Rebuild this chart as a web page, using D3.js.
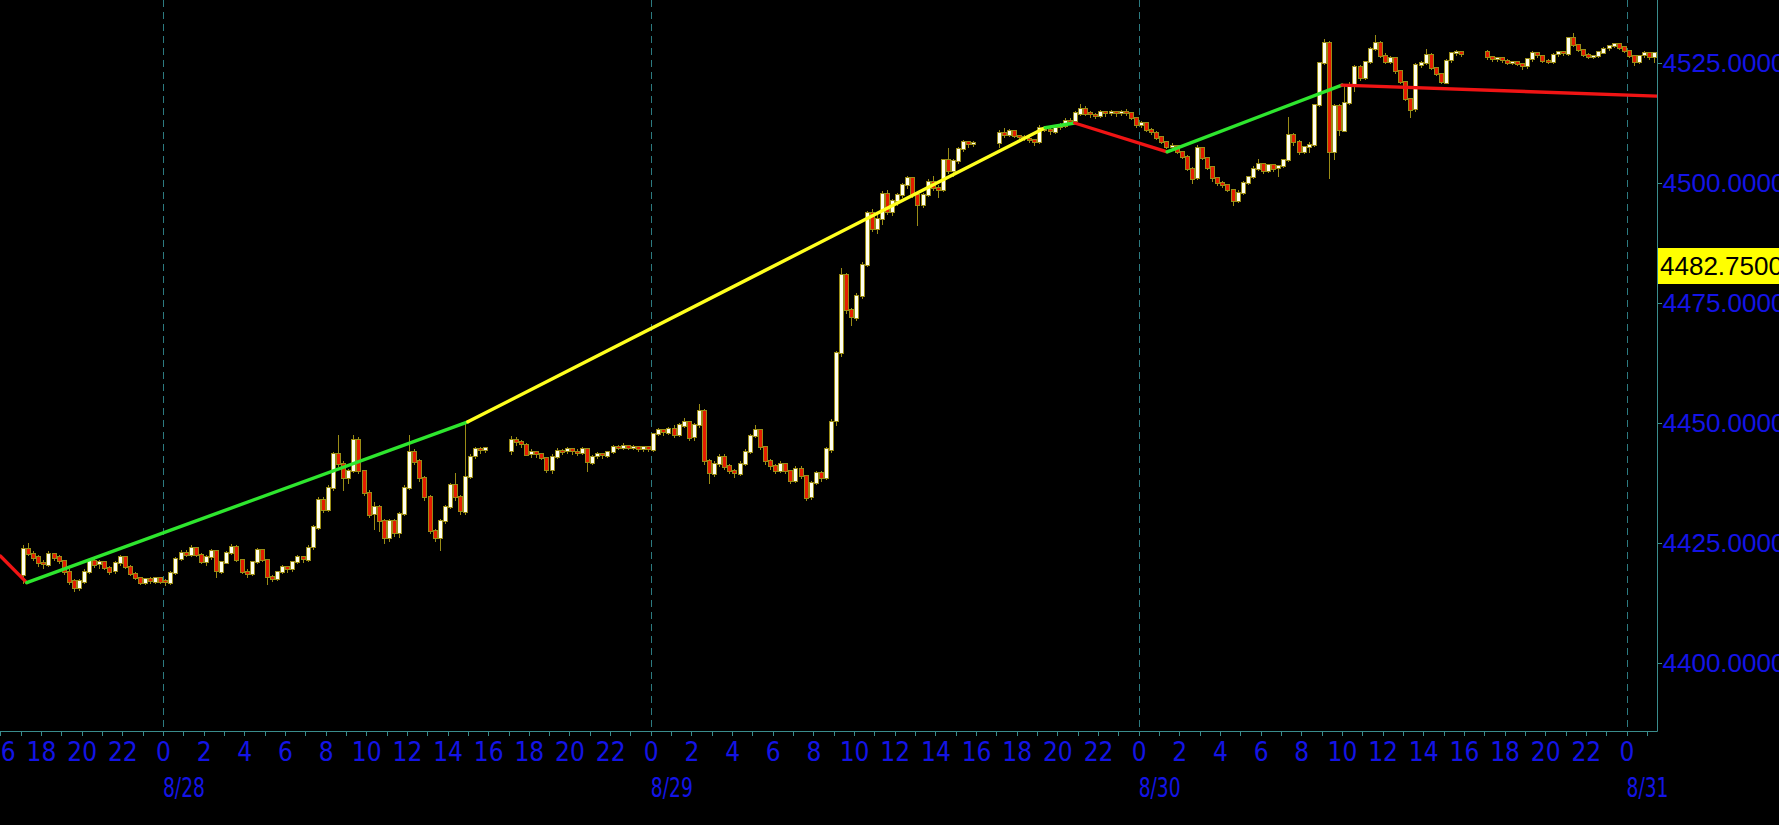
<!DOCTYPE html>
<html><head><meta charset="utf-8">
<script src="https://cdn.jsdelivr.net/npm/d3@7"></script>
<style>
html,body{margin:0;padding:0;background:#000;overflow:hidden}
svg{display:block}
</style></head><body>
<svg id="chart" width="1779" height="825"></svg>
<script>
// ---------------- DATA ----------------
// 15-minute bars, four trading sessions (each starts at 17:00 local exchange time)
const sessionStart = ["2023-08-27T17:00", "2023-08-28T17:00", "2023-08-29T17:00", "2023-08-30T17:00"];
const sessionBars = [92, 92, 92, 34];

const open = [
  // 8/27 17:00 - 8/28 16:00
  4418.25,4423.75,4422.75,4422,4420.75,4420.5,4422.75,4422,4421.25,4419,
  4417,4415.5,4417,4419,4421.25,4420.5,4421,4419.75,4419,4420.75,
  4422,4420,4418.5,4417.75,4416.75,4417.5,4417,4417.75,4417,4416.75,
  4418.75,4421.75,4423,4422.5,4424,4422.5,4421,4422,4423.25,4419,
  4421,4423,4424.25,4421.5,4419,4418.5,4421,4423.5,4421.5,4418,
  4417.5,4419,4420,4419.5,4421,4422,4421.5,4424,4428.25,4434,
  4432,4436.5,4443.5,4441.5,4438.5,4440,4446.5,4440,4435.5,4431,
  4432.5,4429.5,4426,4429.5,4427,4431,4436.5,4444,4442,4438.5,
  4434.5,4427.5,4426,4429.5,4432.5,4437,4434.5,4431.5,4438.75,4443,
  4444.5,4444.25,
  // 8/28 17:00 - 8/29 16:00
  4444.25,4446.5,4446,4445.5,4443.5,4444,4443.5,4442.75,4440.25,4443,
  4444.25,4444,4444.5,4444,4443.75,4444.5,4441.75,4443,4443.5,4443.25,
  4444,4445,4444.75,4445.25,4444.75,4445,4444.5,4445,4444.5,4447.75,
  4448.5,4448,4448.75,4447.5,4449.5,4450.25,4447,4449.5,4452.5,4442,
  4439.5,4441.5,4443,4441,4440,4439.5,4441.5,4444,4447.25,4448.5,
  4445,4442,4441,4440,4441.5,4440,4438,4440.5,4439,4434.5,
  4437.5,4439.5,4438.5,4444.5,4450.25,4464.5,4480.75,4473.5,4472,4476.5,
  4483,4493.75,4490.5,4492.5,4497.75,4494,4496.25,4497.5,4499.5,4501,
  4497.5,4495.5,4497.5,4500.25,4499,4498.5,4504.75,4502.5,4504.5,4507,
  4508.5,4508,
  // 8/29 17:00 - 8/30 16:00
  4508.5,4510.5,4510,4510.75,4509.75,4509.5,4509.25,4509,4508.5,4511.5,
  4511,4510.75,4511.5,4512,4513,4512.75,4514.5,4515.5,4514.5,4514.25,
  4514,4514.75,4514.5,4514.75,4514.5,4514.75,4514.5,4513.5,4512,4512.5,
  4511,4510.5,4509.5,4508.5,4507.5,4507.75,4506.5,4505.5,4503,4501,
  4507.25,4505.25,4503.25,4501,4500,4499.5,4498.5,4496.25,4498,4500,
  4501.25,4503,4504,4502.5,4503.75,4503,4503.5,4504.75,4510,4508.5,
  4506.5,4507.5,4508,4516.25,4525,4529.25,4506.5,4516,4511,4516.75,
  4520.5,4524.25,4522,4525.25,4528,4529.25,4526.5,4525.25,4526,4523.25,
  4521,4517.5,4515.25,4524.5,4525,4526.75,4524,4522.75,4521,4525.5,
  4527,4527.25,
  // 8/30 17:00 - 8/31 01:15
  4527.25,4526.25,4525.75,4526,4525.5,4525,4525.25,4524.75,4524.25,4525.75,
  4527,4526.5,4525.5,4525.25,4526.75,4527.25,4527,4530.25,4528.75,4527.75,
  4526.75,4526.25,4526.5,4527.25,4528,4528.5,4529,4528.25,4527.5,4526.5,
  4525.25,4526.5,4527,4526.25
];
const high = [
  4424.5,4425,4423.25,4422.5,4421.5,4423.25,4423,4422.5,4421.5,4419.5,
  4417.5,4417.5,4419.5,4421.75,4421.75,4421.5,4421.25,4420.25,4421.25,4422.5,
  4422.25,4420.5,4419,4418,4417.75,4418,4418,4418,4417.5,4419.25,
  4422,4423.5,4423.5,4424.5,4424.25,4423,4422.5,4423.75,4423.5,4421.25,
  4423.25,4424.75,4424.5,4421.75,4419.5,4421.25,4424,4423.75,4421.75,4418.25,
  4419.25,4420.5,4420.25,4421.25,4422.5,4422.25,4424.5,4428.75,4434.5,4434.5,
  4437,4444,4447.5,4442,4440.5,4447.5,4447,4440.25,4436,4433.5,
  4433,4430,4430,4430,4431.5,4437,4447.5,4444.5,4442.5,4439,
  4435,4428,4430,4433,4437.5,4439.5,4435,4450.25,4443.5,4445,
  4445,4445,
  4447.25,4447,4446.5,4445.75,4444.5,4444.25,4443.75,4443,4443.5,4444.75,
  4444.5,4445,4444.75,4444.5,4445,4444.75,4443.25,4444,4443.75,4444.25,
  4445.5,4445.5,4445.75,4445.5,4445.5,4445.25,4445.25,4445.25,4448,4449,
  4448.75,4449.25,4449.5,4450,4451,4450.5,4450,4454,4453,4442.5,
  4442,4443.5,4443.5,4441.5,4440.5,4442,4444.5,4447.75,4449.5,4448.75,
  4445.25,4442.5,4441.5,4442,4441.75,4440.25,4441,4441,4439.25,4438,
  4440,4440,4445,4450.75,4465,4482.25,4481.25,4474,4477,4483.5,
  4494.25,4494.5,4493.5,4498.25,4498.5,4496.75,4498,4500,4501.5,4501.25,
  4498,4498,4500.75,4501.5,4499.5,4505,4507.25,4505,4507.5,4509,
  4508.75,4508.75,
  4511,4511.5,4511.25,4511,4510,4510,4509.5,4509.25,4512,4511.75,
  4511.5,4512,4512.5,4513.5,4513.5,4515,4516.5,4516,4515,4514.5,
  4515.25,4515,4515.25,4515,4515.25,4515.5,4514.75,4513.75,4513,4512.75,
  4511.5,4510.75,4509.75,4508.75,4508.25,4508,4506.75,4505.75,4503.25,4508,
  4507.5,4505.5,4503.5,4501.25,4500.5,4499.75,4498.75,4498.5,4500.5,4501.5,
  4503.5,4505,4504.25,4504,4504,4503.75,4505,4513.75,4510.5,4509,
  4507.75,4508.5,4516.5,4525.25,4530,4529.5,4516.5,4516.5,4520.5,4521,
  4524.5,4524.5,4525.5,4528.25,4530.75,4529.5,4527,4526.5,4526.25,4523.5,
  4521.25,4517.75,4525,4525.5,4528,4527,4524.25,4523,4525.75,4527.25,
  4527.75,4527.5,
  4527.75,4526.5,4526.25,4526.25,4525.75,4525.5,4525.5,4525,4526,4527.5,
  4527.25,4526.75,4525.75,4527,4527.5,4527.5,4530.5,4531.25,4529,4528,
  4527,4526.75,4527.5,4528.25,4528.75,4529.25,4529.25,4528.5,4527.75,4526.75,
  4526.75,4527.5,4527.25,4527.25
];
const low = [
  4416.75,4422.5,4421.5,4420.25,4419.75,4420.25,4421.5,4420.75,4418.5,4416.5,
  4415,4415.25,4416.75,4418.75,4420,4419.75,4419.5,4418.5,4418.75,4420.5,
  4419.75,4418.25,4417.5,4416.5,4416.5,4416.75,4416.75,4416.75,4416.25,4416.5,
  4418.5,4421.5,4422.25,4422.25,4422.25,4420.75,4420.5,4421.75,4418,4418.75,
  4420.75,4422.75,4421.25,4418.75,4418,4418.25,4420.75,4421.25,4416.5,4417,
  4417.25,4418.75,4419,4419.25,4420.75,4421,4421.25,4423.75,4428,4431.5,
  4431.75,4436,4441,4436,4437.5,4439.75,4439.5,4435,4430.5,4428,
  4427.5,4425,4425.5,4426.5,4426.25,4430.75,4436.25,4441.5,4438,4434,
  4427,4425.5,4423.5,4429.25,4432.25,4434,4431,4431,4438.5,4442.75,
  4443.75,4444,
  4443.5,4445.5,4445,4443.25,4443,4443,4442.5,4439.75,4439.5,4442.75,
  4443.5,4443.75,4443.5,4443.25,4443.5,4440,4441.5,4442.75,4442.75,4443,
  4443.75,4444.5,4444.5,4444.5,4444.5,4444.25,4444.25,4444.25,4444.25,4447.5,
  4447.5,4447.75,4447,4447.25,4449.25,4446.5,4446.5,4449.25,4441.5,4437.5,
  4439,4441,4440.5,4439.5,4438.75,4439.25,4441.25,4443.75,4447,4444.5,
  4441.5,4440.5,4439.5,4439.75,4439.5,4437.5,4437.75,4438.5,4434,4434.25,
  4437.25,4438,4438.25,4444,4449.5,4464,4473,4470.5,4471.5,4476,
  4482.75,4490,4489.5,4491.5,4493.5,4493.25,4495.5,4497,4499,4497,
  4491.25,4495,4497.25,4498.5,4497,4498.25,4502,4501.5,4504.25,4506.75,
  4507.5,4507.75,
  4507.5,4509.5,4509.75,4509.5,4509,4509,4508.5,4508,4508.25,4510.75,
  4510.25,4510.5,4511.25,4511.75,4512.25,4512.5,4514.25,4514.25,4513.75,4513.5,
  4513.75,4514,4514.25,4514,4514.25,4514.25,4513.25,4511.75,4511.75,4510.75,
  4510.25,4509.25,4508.25,4507.25,4507.25,4506.25,4505.25,4502.75,4500,4500.75,
  4505,4503,4500.5,4499.5,4499.25,4498.25,4495.5,4496,4497.75,4499.75,
  4501,4502.75,4502,4502.25,4502.5,4501.5,4503.25,4504.5,4508,4506,
  4506.25,4506.5,4507.75,4516,4524.75,4501,4505,4510,4510.75,4516.5,
  4519.25,4521.5,4521.75,4525,4527.75,4526.25,4525,4525,4523,4520.75,
  4517.25,4513.75,4515,4524.25,4524.75,4523.75,4522.5,4520.75,4520.75,4525.25,
  4526.75,4526.5,
  4525.75,4525.5,4525.5,4525.25,4524.75,4524.75,4524.5,4523.75,4524,4525.5,
  4526.25,4525.25,4525,4525,4526.5,4526.75,4526.75,4528.5,4527.5,4526.5,
  4526,4526,4526.25,4527,4527.75,4528.25,4528,4527.25,4526.25,4524.5,
  4525,4526.25,4525.75,4525.25
];
const close = [
  4423.75,4422.75,4422,4420.75,4420.5,4422.75,4422,4421.25,4419,4417,
  4415.5,4417,4419,4421.25,4420.5,4421,4419.75,4419,4420.75,4422,
  4420,4418.5,4417.75,4416.75,4417.5,4417,4417.75,4417,4416.75,4418.75,
  4421.75,4423,4422.5,4424,4422.5,4421,4422,4423.25,4419,4421,
  4423,4424.25,4421.5,4419,4418.5,4421,4423.5,4421.5,4418,4417.5,
  4419,4420,4419.5,4421,4422,4421.5,4424,4428.25,4434,4432,
  4436.5,4443.5,4441.5,4438.5,4440,4446.5,4440,4435.5,4431,4432.5,
  4429.5,4426,4429.5,4427,4431,4436.5,4444,4442,4438.5,4434.5,
  4427.5,4426,4429.5,4432.5,4437,4434.5,4431.5,4438.75,4443,4444.5,
  4444.25,4444.75,
  4446.5,4446,4445.5,4443.5,4444,4443.5,4442.75,4440.25,4443,4444.25,
  4444,4444.5,4444,4443.75,4444.5,4441.75,4443,4443.5,4443.25,4444,
  4445,4444.75,4445.25,4444.75,4445,4444.5,4445,4444.5,4447.75,4448.5,
  4448,4448.75,4447.5,4449.5,4450.25,4447,4449.5,4452.5,4442,4439.5,
  4441.5,4443,4441,4440,4439.5,4441.5,4444,4447.25,4448.5,4445,
  4442,4441,4440,4441.5,4440,4438,4440.5,4439,4434.5,4437.5,
  4439.5,4438.5,4444.5,4450.25,4464.5,4480.75,4473.5,4472,4476.5,4483,
  4493.75,4490.5,4492.5,4497.75,4494,4496.25,4497.5,4499.5,4501,4497.5,
  4495.5,4497.5,4500.25,4499,4498.5,4504.75,4502.5,4504.5,4507,4508.5,
  4508,4508.25,
  4510.5,4510,4510.75,4509.75,4509.5,4509.25,4509,4508.5,4511.5,4511,
  4510.75,4511.5,4512,4513,4512.75,4514.5,4515.5,4514.5,4514.25,4514,
  4514.75,4514.5,4514.75,4514.5,4514.75,4514.5,4513.5,4512,4512.5,4511,
  4510.5,4509.5,4508.5,4507.5,4507.75,4506.5,4505.5,4503,4501,4507.25,
  4505.25,4503.25,4501,4500,4499.5,4498.5,4496.25,4498,4500,4501.25,
  4503,4504,4502.5,4503.75,4503,4503.5,4504.75,4510,4508.5,4506.5,
  4507.5,4508,4516.25,4525,4529.25,4506.5,4516,4511,4516.75,4520.5,
  4524.25,4522,4525.25,4528,4529.25,4526.5,4525.25,4526,4523.25,4521,
  4517.5,4515.25,4524.5,4525,4526.75,4524,4522.75,4521,4525.5,4527,
  4527.25,4526.75,
  4526.25,4525.75,4526,4525.5,4525,4525.25,4524.75,4524.25,4525.75,4527,
  4526.5,4525.5,4525.25,4526.75,4527.25,4527,4530.25,4528.75,4527.75,4526.75,
  4526.25,4526.5,4527.25,4528,4528.5,4529,4528.25,4527.5,4526.5,4525.25,
  4526.5,4527,4526.25,4527
];

// swing (zig-zag) line vertices
const swingTime = ["2023-08-27T16:00", "2023-08-27T17:18", "2023-08-28T15:00", "2023-08-29T19:24",
                   "2023-08-29T20:51", "2023-08-30T01:24", "2023-08-30T10:00", "2023-08-31T01:30"];
const swingPrice = [4422.3, 4416.75, 4450.25, 4511.5, 4512.5, 4506.5, 4520.4, 4518.1];

const priceTicks = [4400, 4425, 4450, 4475, 4500, 4525];
const lastPrice = 4482.75;

// ---------------- STYLE / LAYOUT ----------------
const segmentColor = ["#f01414", "#2ee62e", "#ffff1e", "#2ee62e", "#f01414", "#2ee62e", "#f01414"];
const W = 1779, H = 825, plotR = 1657, plotB = 731;
const blue = "#1414e6", teal = "#3a8c8c", grid = "#2c7a80", olive = "#9a8c16";
const upFill = "#fffff0", downFill = "#e41c00";
const labelFont = "'Liberation Sans', Arial, sans-serif";
const narrowFont = "'DejaVu Sans Condensed', 'Liberation Sans Narrow', sans-serif";

const parse = d3.timeParse("%Y-%m-%dT%H:%M");
const svg = d3.select("#chart");
svg.append("rect").attr("width", W).attr("height", H).attr("fill", "#000");

const x = d3.scaleTime()
  .domain([new Date(2023, 7, 27, 15, 59), new Date(2023, 7, 31, 1, 30)])
  .range([0, plotR]);
const y = d3.scaleLinear().domain([4400, 4525]).range([663, 63]);

// build candles
const bars = [];
let idx = 0;
sessionStart.forEach((s, si) => {
  const t0 = parse(s);
  for (let i = 0; i < sessionBars[si]; i++, idx++) {
    bars.push({t: d3.timeMinute.offset(t0, 15 * i), o: open[idx], h: high[idx], l: low[idx], c: close[idx]});
  }
});

svg.append("defs").append("clipPath").attr("id", "plot")
  .append("rect").attr("x", 0).attr("y", 0).attr("width", plotR).attr("height", plotB);

// day separators
const days = d3.timeDay.range(...x.domain()).filter(d => d > x.domain()[0]);
const g = svg.append("g").attr("clip-path", "url(#plot)");
g.selectAll("line.day").data(days).join("line")
  .attr("x1", d => Math.round(x(d)) + 0.5).attr("x2", d => Math.round(x(d)) + 0.5)
  .attr("y1", 0).attr("y2", plotB)
  .attr("stroke", grid).attr("stroke-width", 1).attr("stroke-dasharray", "7,5");

// candles
const cg = g.append("g").attr("shape-rendering", "crispEdges");
const cx = d => Math.round(x(d3.timeMinute.offset(d.t, 7.5)));
cg.selectAll("line.wick").data(bars).join("line")
  .attr("x1", d => cx(d) + 0.5).attr("x2", d => cx(d) + 0.5)
  .attr("y1", d => Math.round(y(d.h))).attr("y2", d => Math.round(y(d.l)) + 1)
  .attr("stroke", olive).attr("stroke-width", 1);
cg.selectAll("rect.body").data(bars).join("rect")
  .attr("x", d => cx(d) - 1.5)
  .attr("y", d => Math.round(y(Math.max(d.o, d.c))) - 0.5)
  .attr("width", 4)
  .attr("height", d => Math.max(2, Math.round(Math.abs(y(d.o) - y(d.c))) + 1))
  .attr("fill", d => d.c >= d.o ? upFill : downFill)
  .attr("stroke", olive).attr("stroke-width", 1);

// swing lines
const pts = swingTime.map((t, i) => [x(parse(t)), y(swingPrice[i])]);
for (let i = 0; i < pts.length - 1; i++) {
  g.append("path").attr("d", d3.line()([pts[i], pts[i + 1]]))
    .attr("fill", "none").attr("stroke", segmentColor[i]).attr("stroke-width", 3.4)
    .attr("stroke-linecap", "round");
}

// axes lines
svg.append("line").attr("x1", 0).attr("x2", plotR + 0.5).attr("y1", plotB + 0.5).attr("y2", plotB + 0.5)
  .attr("stroke", teal).attr("stroke-width", 1);
svg.append("line").attr("x1", plotR + 0.5).attr("x2", plotR + 0.5).attr("y1", 0).attr("y2", plotB + 0.5)
  .attr("stroke", teal).attr("stroke-width", 1);

// bottom axis (hours)
const xAxis = d3.axisBottom(x)
  .ticks(d3.timeHour.every(1))
  .tickSize(4).tickPadding(7)
  .tickFormat(d => d.getHours() % 2 === 0 ? String(d.getHours()) : "");
const xa = svg.append("g").attr("transform", `translate(0,${plotB + 0.5})`).call(xAxis);
xa.select(".domain").remove();
xa.selectAll(".tick line").attr("stroke", teal).attr("shape-rendering", "crispEdges");
xa.selectAll(".tick text").attr("fill", blue).attr("font-family", narrowFont).attr("font-size", 26)
  .attr("dy", "0.71em");

// date labels
svg.selectAll("text.date").data(days).join("text")
  .attr("x", d => x(d)).attr("y", 797)
  .attr("fill", blue).attr("font-family", narrowFont).attr("font-size", 26)
  .attr("textLength", 42).attr("lengthAdjust", "spacingAndGlyphs")
  .text(d => d3.timeFormat("%-m/%-d")(d));

// right axis
const yAxis = d3.axisRight(y).tickValues(priceTicks).tickSize(4).tickPadding(1)
  .tickFormat(d3.format(".4f"));
const ya = svg.append("g").attr("transform", `translate(${plotR + 0.5},0)`).call(yAxis);
ya.select(".domain").remove();
ya.selectAll(".tick line").attr("stroke", teal).attr("shape-rendering", "crispEdges");
ya.selectAll(".tick text").attr("fill", blue).attr("font-family", labelFont).attr("font-size", 26);

// last price marker
const ly = y(lastPrice);
svg.append("rect").attr("x", plotR + 1).attr("y", Math.round(ly) - 18).attr("width", W - plotR).attr("height", 36)
  .attr("fill", "#ffff00");
svg.append("text").attr("x", plotR + 3).attr("y", ly).attr("dy", "0.36em")
  .attr("fill", "#000").attr("font-family", labelFont).attr("font-size", 26)
  .text(d3.format(".4f")(lastPrice));
</script>
</body></html>
